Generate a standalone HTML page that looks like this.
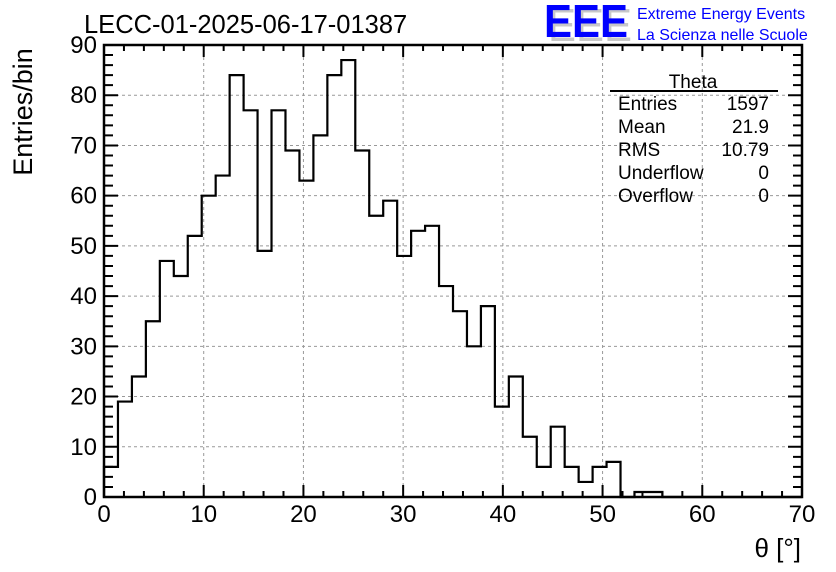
<!DOCTYPE html>
<html><head><meta charset="utf-8"><style>
html,body{margin:0;padding:0;background:#fff;}
svg{display:block;font-family:"Liberation Sans",Arial,sans-serif;}
</style></head><body>
<svg id="chart" width="836" height="572" viewBox="0 0 836 572">
<g id="grid"></g>
<g id="ticks"></g>
<g id="labels"></g>
<path id="hist" fill="none" stroke="#000" stroke-width="2.2"></path>
<rect x="104" y="45" width="698" height="452" fill="none" stroke="#000" stroke-width="2.5"></rect>
<text x="84" y="33" font-size="25.5">LECC-01-2025-06-17-01387</text>
<text transform="translate(32,112) rotate(-90)" text-anchor="middle" font-size="27">Entries/bin</text>
<text x="801" y="557" text-anchor="end" font-size="26">θ [°]</text>
<g>
<text x="548" y="41" font-size="46" fill="#c8c8c8" textLength="84" lengthAdjust="spacingAndGlyphs">EEE</text>
<text x="544" y="37" font-size="46" fill="#0000ff" textLength="84" lengthAdjust="spacingAndGlyphs" font-weight="bold">EEE</text>
<text x="637" y="19" font-size="16" fill="#0000ff">Extreme Energy Events</text>
<text x="637" y="40" font-size="16" fill="#0000ff">La Scienza nelle Scuole</text>
</g>
<g font-size="19">
<text x="693" y="88" text-anchor="middle">Theta</text>
<line x1="610" y1="91" x2="778" y2="91" stroke="#000" stroke-width="2"></line>
<text x="618" y="110">Entries</text><text x="769" y="110" text-anchor="end">1597</text>
<text x="618" y="133">Mean</text><text x="769" y="133" text-anchor="end">21.9</text>
<text x="618" y="156">RMS</text><text x="769" y="156" text-anchor="end">10.79</text>
<text x="618" y="179">Underflow</text><text x="769" y="179" text-anchor="end">0</text>
<text x="618" y="202">Overflow</text><text x="769" y="202" text-anchor="end">0</text>
</g>
</svg>
<script>
const binCounts = [6,19,24,35,47,44,52,60,64,84,77,49,77,69,63,72,84,87,69,56,59,48,53,54,42,37,30,38,18,24,12,6,14,6,3,6,7,0,1,1,0,0,0,0,0,0,0,0,0,0];
const binWidth = 1.4;
const xTicks = [0,10,20,30,40,50,60,70];
const yTicks = [0,10,20,30,40,50,60,70,80,90];

const X0=104, X1=802, Y0=497, Y1=45;
const sx = v => X0 + (v/70)*(X1-X0);
const sy = v => Y0 - (v/90)*(Y0-Y1);
const NS="http://www.w3.org/2000/svg";
function mk(tag, attrs, parent){const e=document.createElementNS(NS,tag);for(const k in attrs)e.setAttribute(k,attrs[k]);parent.appendChild(e);return e;}
const grid=document.getElementById('grid'), ticks=document.getElementById('ticks'), labels=document.getElementById('labels');

xTicks.forEach(t=>{
  const x=sx(t);
  if(t>0&&t<70){const g=mk('line',{x1:x,y1:Y1,x2:x,y2:Y0,stroke:'#999','stroke-dasharray':'3,3','stroke-width':1},grid);
  
  }
  const l=mk('text',{x:x,y:522,'text-anchor':'middle','font-size':24},labels);
  l.textContent=t;
  
  
});
yTicks.forEach(t=>{
  const y=sy(t);
  if(t>0&&t<90){const g=mk('line',{x1:X0,y1:y,x2:X1,y2:y,stroke:'#999','stroke-dasharray':'3,3','stroke-width':1},grid);
  
  }
  const l=mk('text',{x:97,y:y+8,'text-anchor':'end','font-size':24},labels);
  l.textContent=t;
  
  
});
let d='';
for(let v=0; v<=70.001; v+=2){
  const x=sx(v), len=(Math.round(v)%10===0)?12:6;
  d+=`M${x},${Y0}v${-len}M${x},${Y1}v${len}`;
}
for(let v=0; v<=90.001; v+=2){
  const y=sy(v), len=(Math.round(v)%10===0)?14:9;
  d+=`M${X0},${y}h${len}M${X1},${y}h${-len}`;
}
const tp=mk('path',{d:d,stroke:'#000','stroke-width':2,fill:'none'},ticks);



let h=`M${sx(0)},${sy(0)}`;
binCounts.forEach((c,i)=>{
  h+=`L${sx(i*binWidth)},${sy(c)}L${sx((i+1)*binWidth)},${sy(c)}`;
});
h+=`L${sx(binCounts.length*binWidth)},${sy(0)}`;
document.getElementById('hist').setAttribute('d',h);
</script>
</body></html>
